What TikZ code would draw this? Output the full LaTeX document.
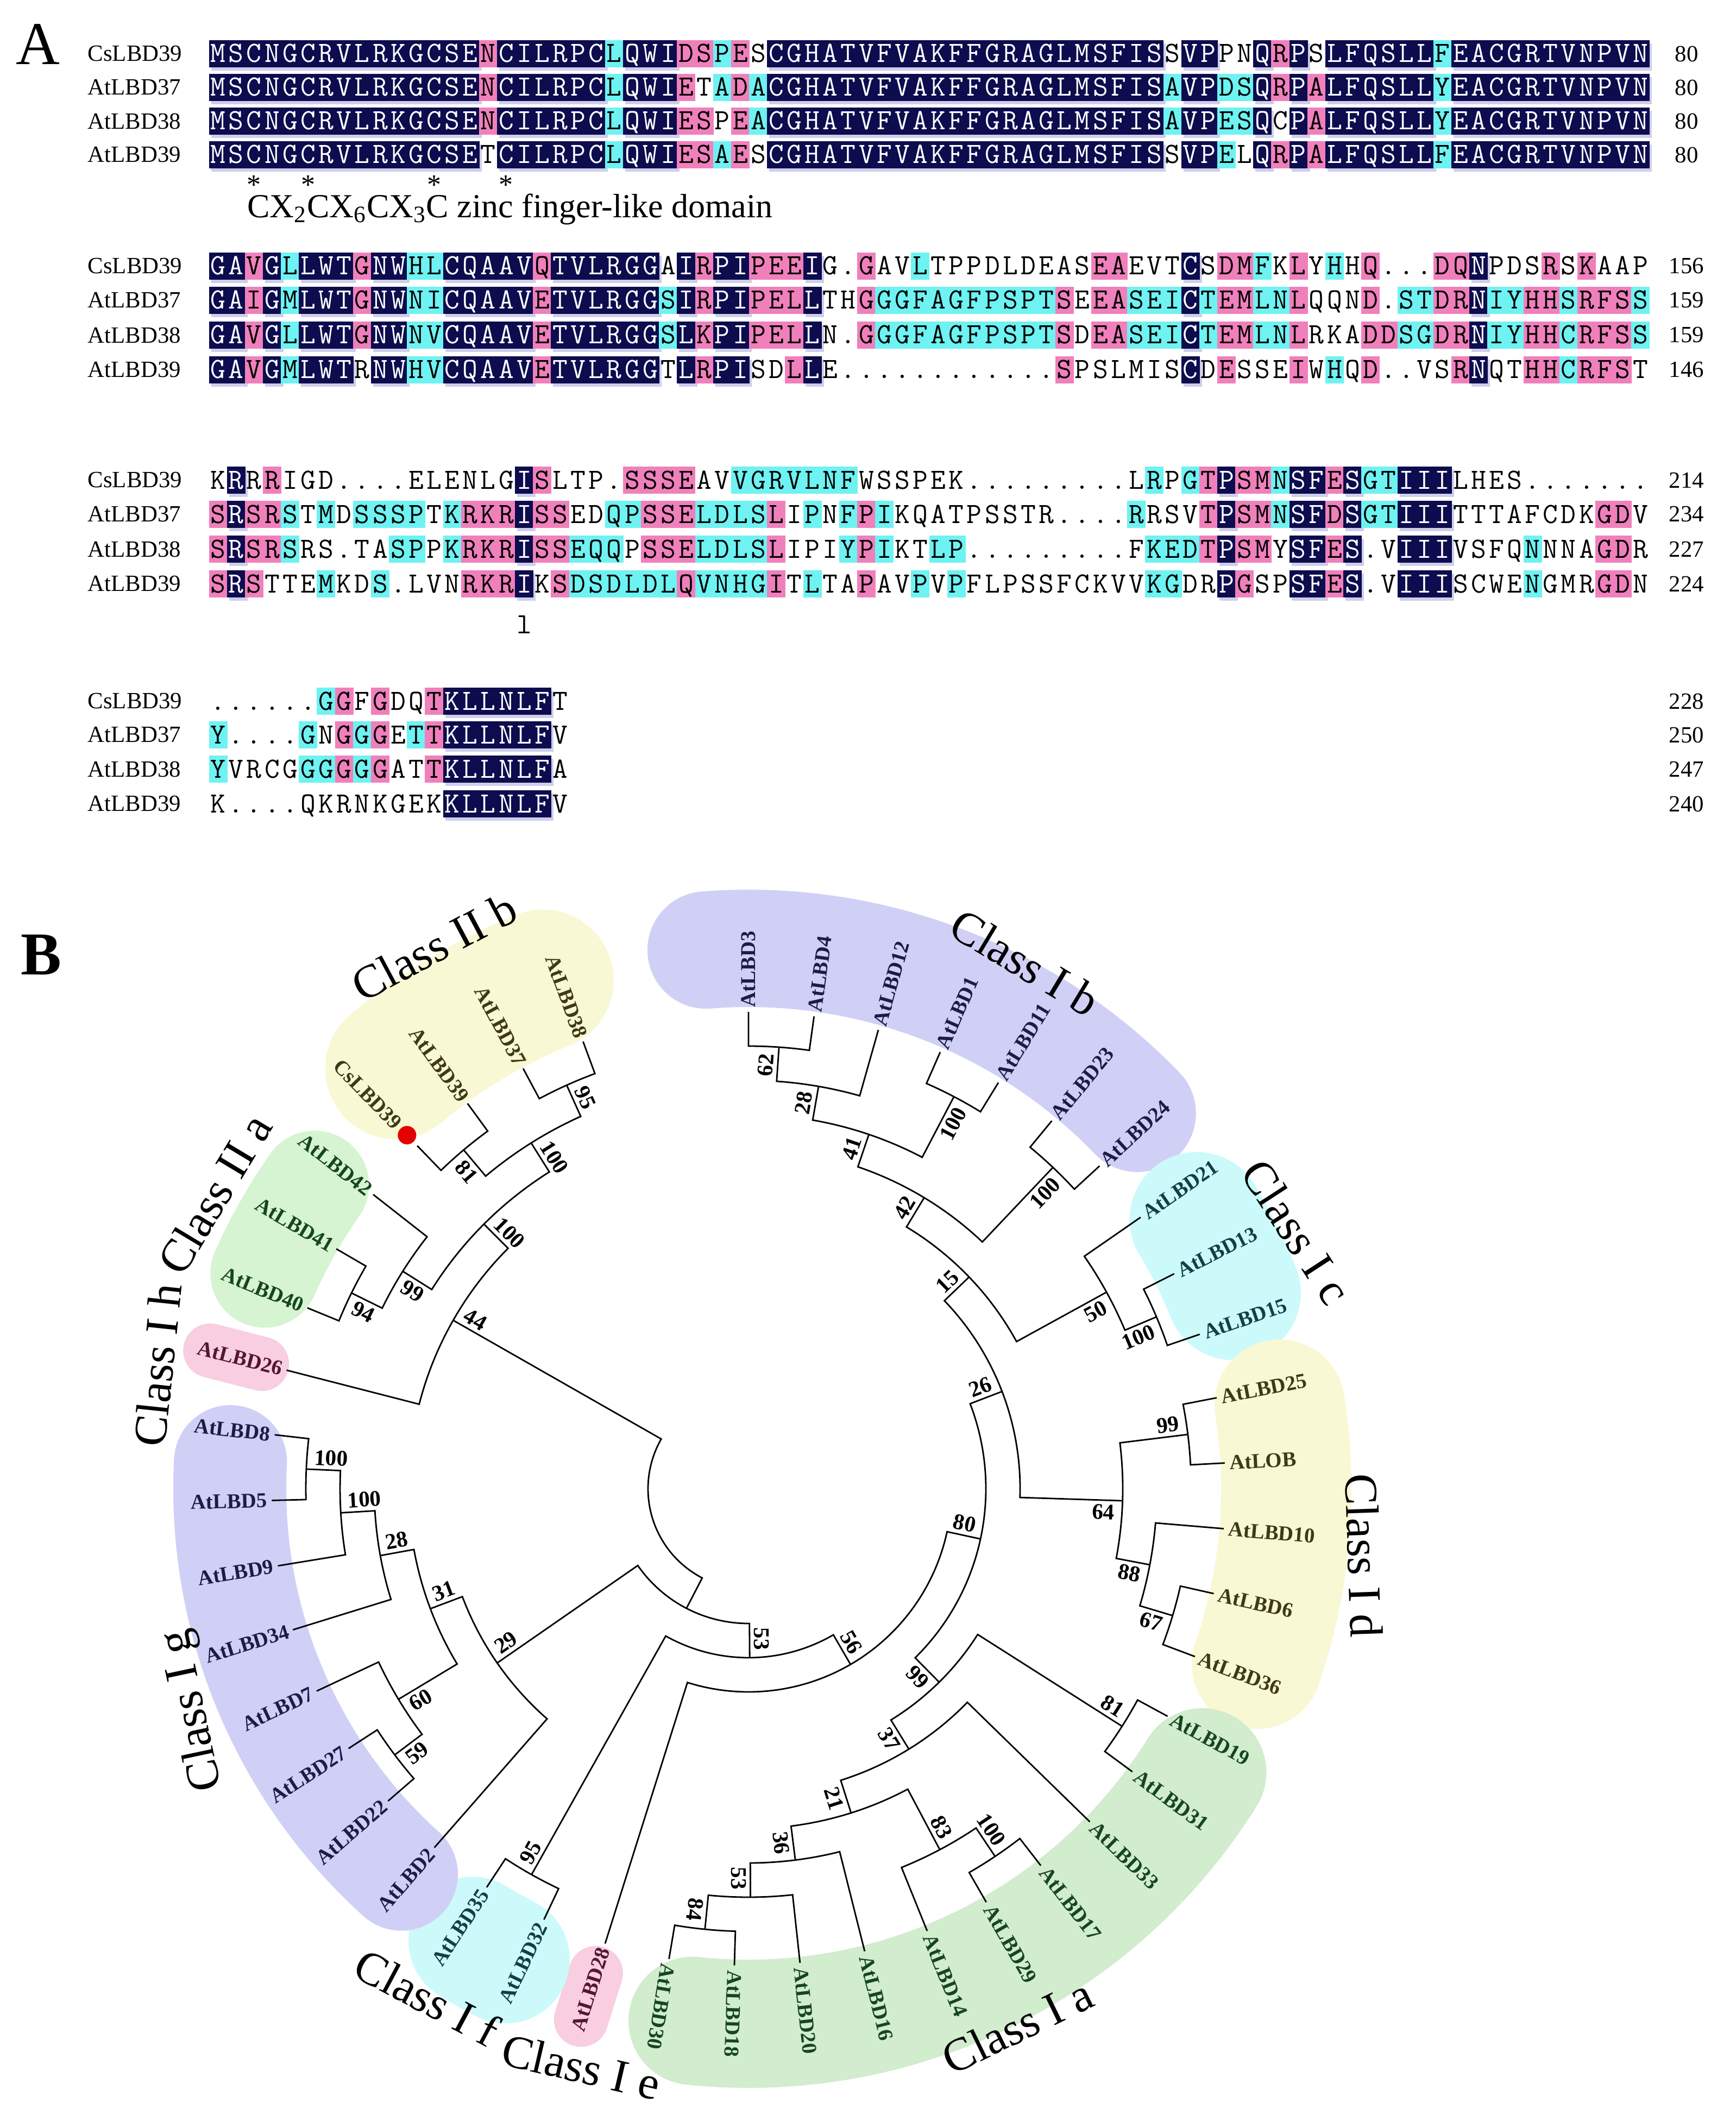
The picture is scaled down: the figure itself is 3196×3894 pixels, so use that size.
\documentclass[tikz,border=0pt]{standalone}
\usepackage{fontspec}
\setmainfont{Liberation Serif}
\usepackage{xstring}
\usetikzlibrary{positioning}

\definecolor{navyres}{RGB}{12,12,78}
\definecolor{navyshade}{RGB}{206,206,236}
\definecolor{pinkres}{RGB}{240,128,188}
\definecolor{cyanres}{RGB}{110,242,242}
\definecolor{blobblue}{RGB}{208,208,246}
\definecolor{blobcyan}{RGB}{204,250,250}
\definecolor{blobyellow}{RGB}{249,248,212}
\definecolor{blobgreen}{RGB}{210,236,206}
\definecolor{blobgreenb}{RGB}{214,244,210}
\definecolor{blobpink}{RGB}{248,206,224}
\definecolor{labblue}{RGB}{28,28,72}
\definecolor{labteal}{RGB}{20,62,70}
\definecolor{labolive}{RGB}{62,58,22}
\definecolor{labgreen}{RGB}{22,70,32}
\definecolor{labpink}{RGB}{84,22,52}

\newcommand\seqsize{\ttfamily\fontsize{13.5}{14}\selectfont}

\tikzset{
  res/.style={anchor=base, inner sep=0pt, font=\seqsize},
  seqname/.style={anchor=west, inner sep=0pt, font=\fontsize{10.7}{12}\selectfont},
  seqend/.style={inner sep=0pt, font=\fontsize{10.7}{12}\selectfont},
  branch/.style={line width=0.7pt, black},
  leaf/.style={inner sep=2pt, font=\bfseries\fontsize{9.7}{11}\selectfont},
  boot/.style={inner sep=1.8pt, font=\bfseries\fontsize{10.3}{11}\selectfont},
  classlab/.style={inner sep=0pt, font=\fontsize{21.5}{23}\selectfont},
  blob/.style={line cap=round},
  panel/.style={inner sep=0pt, font=\fontsize{28}{30}\selectfont}
}

% one alignment row: y, residues, shading (n navy, p pink, c cyan, w none)
\newcommand\seqrow[3]{%
  \StrLen{#2}[\seqn]%
  \foreach \ci in {1,...,\seqn}{%
    \StrChar{#3}{\ci}[\shd]%
    \StrChar{#2}{\ci}[\resid]%
    \pgfmathsetmacro\xk{385+33.15*(\ci-0.5)}%
    \def\fg{black}%
    \if n\shd
      \fill[navyshade] (\xk-13,#1-31) rectangle (\xk+21,#1+19);
      \fill[navyres] (\xk-17,#1-25) rectangle (\xk+17,#1+25); \def\fg{white}\fi
    \if p\shd \fill[pinkres] (\xk-17,#1-25) rectangle (\xk+17,#1+25); \fi
    \if c\shd \fill[cyanres] (\xk-17,#1-25) rectangle (\xk+17,#1+25); \fi
    \node[res, text=\fg] at (\xk,#1-16) {\resid};
  }}

% tree leaf: [extra gap] name, position index, label, colour
\newcommand\leaf[5][0]{%
  \pgfmathsetmacro\nang{90-7.9*#3}%
  \pgfmathsetmacro\lrad{878+#1}%
  \expandafter\xdef\csname a@#2\endcsname{\nang}%
  \coordinate (#2) at (\nang:878);%
  \pgfmathtruncatemacro\rs{\nang>-100}%
  \ifnum\rs=1
    \node[leaf, text=#5, anchor=west, rotate=\nang] (#2t) at (\nang:\lrad) {#4};%
  \else
    \pgfmathsetmacro\brot{\nang+180}%
    \node[leaf, text=#5, anchor=east, rotate=\brot] (#2t) at (\nang:\lrad) {#4};%
  \fi}

% inner node: name, child, child, level, bootstrap, side
\newcommand\clade[6]{%
  \edef\aone{\csname a@#2\endcsname}%
  \edef\atwo{\csname a@#3\endcsname}%
  \pgfmathsetmacro\nang{(\aone+\atwo)/2}%
  \pgfmathsetmacro\nrad{878-63*#4}%
  \expandafter\xdef\csname a@#1\endcsname{\nang}%
  \coordinate (#1) at (\nang:\nrad);%
  \draw[branch] (#2) -- (\aone:\nrad) arc[start angle=\aone, end angle=\atwo, radius=\nrad] -- (#3);%
  \ifx\relax#5\relax\else
    \pgfmathsetmacro\brad{\nrad-6}%
    \pgfmathtruncatemacro\rs{\nang>-100}%
    \ifnum\rs=1
      \ifnum#6>0 \def\anc{south east}\else\def\anc{north east}\fi
      \let\brot\nang
    \else
      \ifnum#6>0 \def\anc{north west}\else\def\anc{south west}\fi
      \pgfmathsetmacro\brot{\nang+180}%
    \fi
    \node[boot, anchor=\anc, rotate=\brot] (#1b) at (\nang:\brad) {#5};%
  \fi}

\begin{document}
\begin{tikzpicture}[x=0.25pt, y=0.25pt]
\useasboundingbox (0,0) rectangle (3196,-3894);
\fill[white] (0,0) rectangle (3196,-3894);

%% A: alignment
\node[panel] (pA) at (70,-82) {A};

\seqrow{-99}{MSCNGCRVLRKGCSENCILRPCLQWIDSPESCGHATVFVAKFFGRAGLMSFISSVPPNQRPSLFQSLLFEACGRTVNPVN}{nnnnnnnnnnnnnnnpnnnnnncnnnppcpwnnnnnnnnnnnnnnnnnnnnnnwnnwwnpnwnnnnnncnnnnnnnnnnn}
\seqrow{-161}{MSCNGCRVLRKGCSENCILRPCLQWIETADACGHATVFVAKFFGRAGLMSFISAVPDSQRPALFQSLLYEACGRTVNPVN}{nnnnnnnnnnnnnnnpnnnnnncnnnpwcpcnnnnnnnnnnnnnnnnnnnnnncnnccnpnpnnnnnncnnnnnnnnnnn}
\seqrow{-223}{MSCNGCRVLRKGCSENCILRPCLQWIESPEACGHATVFVAKFFGRAGLMSFISAVPESQCPALFQSLLYEACGRTVNPVN}{nnnnnnnnnnnnnnnpnnnnnncnnnppwpcnnnnnnnnnnnnnnnnnnnnnncnnccnwnpnnnnnncnnnnnnnnnnn}
\seqrow{-285}{MSCNGCRVLRKGCSETCILRPCLQWIESAESCGHATVFVAKFFGRAGLMSFISSVPELQRPALFQSLLFEACGRTVNPVN}{nnnnnnnnnnnnnnnwnnnnnncnnnppcpwnnnnnnnnnnnnnnnnnnnnnnwnncwnpnpnnnnnncnnnnnnnnnnn}

\foreach \c in {3,6,13,17}
  \node[font=\fontsize{13}{14}\selectfont, inner sep=0pt] (st\c) at ({385+33.15*(\c-0.5)},-340) {*};
\node[inner sep=0pt, font=\fontsize{15.5}{17}\selectfont] (dom) at (939,-385) {CX\textsubscript{2}CX\textsubscript{6}CX\textsubscript{3}C zinc finger-like domain};

\seqrow{-490}{GAVGLLWTGNWHLCQAAVQTVLRGGAIRPIPEEIG.GAVLTPPDLDEASEAEVTCSDMFKLYHHQ...DQNPDSRSKAAP}{nnpncnnnpnnccnnnnnpnnnnnnwnpnnpppnwwpwwcwwwwwwwwwppwwwnwppcwpwcwpwwwppnwwwpwpwww}
\seqrow{-553}{GAIGMLWTGNWNICQAAVETVLRGGSIRPIPELLTHGGGFAGFPSPTSEEASEICTEMLNLQQND.STDRNIYHHSRFSS}{nnpncnnnpnnccnnnnnpnnnnnncnpnnpppnwwpccccccccccpwppcccncppccpwwwpwccppnccppcpppc}
\seqrow{-617}{GAVGLLWTGNWNVCQAAVETVLRGGSLKPIPELLN.GGGFAGFPSPTSDEASEICTEMLNLRKADDSGDRNIYHHCRFSS}{nnpncnnnpnnccnnnnnpnnnnnncnpnnpppnwwpccccccccccpwppcccncppccpwwwppccppnccppcpppc}
\seqrow{-681}{GAVGMLWTRNWHVCQAAVETVLRGGTLRPISDLLE............SPSLMISCDESSEIWHQD..VSRNQTHHCRFST}{nnpncnnnwnnccnnnnnpnnnnnnwnpnnwwpnwwwwwwwwwwwwwpwwwwwwnwpwwwpwcwpwwwwpnwwppcpppw}

\seqrow{-884}{KRRRIGD....ELENLGISLTP.SSSEAVVGRVLNFWSSPEK.........LRPGTPSMNSFESGTIIILHES.......}{wnwpwwwwwwwwwwwwwnpwwwwppppwwcccccccwwwwwwwwwwwwwwwwcwcpnppcnnpnccnnnwwwwwwwwwww}
\seqrow{-947}{SRSRSTMDSSSPTKRKRISSEDQPSSELDLSLIPNFPIKQATPSSTR....RRSVTPSMNSFDSGTIIITTTAFCDKGDV}{pnppcwcwccccwcpppnppwwccpppccccpwcwcpcwwwwwwwwwwwwwcwwwpnppcnnpnccnnnwwwwwwwwppw}
\seqrow{-1011}{SRSRSRS.TASPPKRKRISSEQQPSSELDLSLIPIYPIKTLP.........FKEDTPSMYSFES.VIIIVSFQNNNAGDR}{pnppcwwwwwccwcpppnppcccwpppccccpwwwcpcwwccwwwwwwwwwwcccpnppwnnpnwwnnnwwwwcwwwppw}
\seqrow{-1075}{SRSTTEMKDS.LVNRKRIKSDSDLDLQVNHGITLTAPAVPVPFLPSSFCKVVKGDRPGSPSFES.VIIISCWENGMRGDN}{pnpwwwcwwcwwwwpppnwpccccccpccccpwcwwpwwcwcwwwwwwwwwwccwwnpwwnnpnwwnnnwwwwcwwwppw}
\node[inner sep=0pt, font=\seqsize] (mk) at (965,-1150) {l};

\seqrow{-1291}{......GGFGDQTKLLNLFT}{wwwwwwcpwpwwpnnnnnnw}
\seqrow{-1353}{Y....GNGGGETTKLLNLFV}{cwwwwcwpcpwcpnnnnnnw}
\seqrow{-1416}{YVRCGGGGGGATTKLLNLFA}{cwwwwccpcpwwpnnnnnnw}
\seqrow{-1480}{K....QKRNKGEKKLLNLFV}{wwwwwwwwwwwwwnnnnnnw}

\foreach \yy/\nn/\ee in {99/CsLBD39/80, 161/AtLBD37/80, 223/AtLBD38/80, 285/AtLBD39/80,
    490/CsLBD39/156, 553/AtLBD37/159, 617/AtLBD38/159, 681/AtLBD39/146,
    884/CsLBD39/214, 947/AtLBD37/234, 1011/AtLBD38/227, 1075/AtLBD39/224,
    1291/CsLBD39/228, 1353/AtLBD37/250, 1416/AtLBD38/247, 1480/AtLBD39/240}{
  \node[seqname] (nm\yy) at (161,-\yy) {\nn};
  \node[seqend] (len\yy) at (3105,-\yy) {\ee};
}

%% B: tree
\node[panel, font=\bfseries\fontsize{28}{30}\selectfont] (pB) at (76,-1758) {B};

\begin{scope}[shift={(1378,-2741)}]
  % class shading
  \draw[blob, blobblue, line width=54pt] (94.5:995) arc[start angle=94.5, end angle=44, radius=995];
  \draw[blob, blobcyan, line width=62pt] (31:963) arc[start angle=31, end angle=22, radius=963];
  \draw[blob, blobyellow, line width=60pt] (9:990) arc[start angle=9, end angle=-19, radius=990];
  \draw[blob, blobgreen, line width=59pt] (-32:985) arc[start angle=-32, end angle=-96, radius=985];
  \draw[blob, blobpink, line width=25pt] (-107.5:935) -- (-107.5:1025);
  \draw[blob, blobcyan, line width=59pt] (-117.3:975) arc[start angle=-117.3, end angle=-121.4, radius=975];
  \draw[blob, blobblue, line width=52pt] (177:955) arc[start angle=177, end angle=228, radius=955];
  \draw[blob, blobpink, line width=25pt] (165.6:925) -- (165.6:1023);
  \draw[blob, blobgreenb, line width=50pt] (145:975) arc[start angle=145, end angle=156, radius=975];
  \draw[blob, blobyellow, line width=65pt] (112:1010) arc[start angle=112, end angle=130, radius=1010];

  \foreach \i/\nm/\tx/\cl in {0/l3/AtLBD3/labblue, 1/l4/AtLBD4/labblue, 2/l12/AtLBD12/labblue,
      3/l1/AtLBD1/labblue, 4/l11/AtLBD11/labblue, 5/l23/AtLBD23/labblue, 6/l24/AtLBD24/labblue,
      7/l21/AtLBD21/labteal, 8/l13/AtLBD13/labteal, 9/l15/AtLBD15/labteal,
      10/l25/AtLBD25/labolive, 11/lLOB/AtLOB/labolive, 12/l10/AtLBD10/labolive, 13/l6/AtLBD6/labolive, 14/l36/AtLBD36/labolive,
      15/l19/AtLBD19/labgreen, 16/l31/AtLBD31/labgreen, 17/l33/AtLBD33/labgreen, 18/l17/AtLBD17/labgreen,
      19/l29/AtLBD29/labgreen, 20/l14/AtLBD14/labgreen, 21/l16/AtLBD16/labgreen, 22/l20/AtLBD20/labgreen,
      23/l18/AtLBD18/labgreen, 24/l30/AtLBD30/labgreen,
      25/l28/AtLBD28/labpink, 26/l32/AtLBD32/labteal, 27/l35/AtLBD35/labteal,
      28/l2/AtLBD2/labblue, 29/l22/AtLBD22/labblue, 30/l27/AtLBD27/labblue, 31/l7/AtLBD7/labblue,
      32/l34/AtLBD34/labblue, 33/l9/AtLBD9/labblue, 34/l5/AtLBD5/labblue, 35/l8/AtLBD8/labblue,
      36/l26/AtLBD26/labpink, 37/l40/AtLBD40/labgreen, 38/l41/AtLBD41/labgreen, 39/l42/AtLBD42/labgreen,
      41/l39/AtLBD39/labolive, 42/l37/AtLBD37/labolive, 43/l38/AtLBD38/labolive}
    \leaf{\nm}{\i}{\tx}{\cl};
  \leaf[42]{cs39}{40}{CsLBD39}{labolive}

  % Class I b, c, d
  \clade{n62}{l3}{l4}{1}{62}{1}
  \clade{n28}{n62}{l12}{2}{28}{1}
  \clade{n100a}{l1}{l11}{1}{100}{-1}
  \clade{n41}{n28}{n100a}{3}{41}{1}
  \clade{n100b}{l23}{l24}{1}{100}{-1}
  \clade{n42}{n41}{n100b}{4}{42}{1}
  \clade{n100c}{l13}{l15}{1}{100}{-1}
  \clade{n50}{l21}{n100c}{2}{50}{-1}
  \clade{n15}{n42}{n50}{5}{15}{1}
  \clade{n99}{l25}{lLOB}{1}{99}{1}
  \clade{n67}{l6}{l36}{1}{67}{-1}
  \clade{n88}{l10}{n67}{2}{88}{-1}
  \clade{n64}{n99}{n88}{3}{64}{-1}
  \clade{n26}{n15}{n64}{6}{26}{1}
  % Class I a
  \clade{n81}{l19}{l31}{1}{81}{1}
  \clade{n100d}{l17}{l29}{1}{100}{1}
  \clade{n83}{n100d}{l14}{2}{83}{1}
  \clade{n84}{l18}{l30}{1}{84}{-1}
  \clade{n53b}{l20}{n84}{2}{53}{-1}
  \clade{n36}{l16}{n53b}{3}{36}{-1}
  \clade{n21}{n83}{n36}{4}{21}{-1}
  \clade{n37}{l33}{n21}{5}{37}{-1}
  \clade{n99b}{n81}{n37}{6}{99}{-1}
  \clade{n80}{n26}{n99b}{7}{80}{1}
  \clade{n56}{n80}{l28}{8}{56}{1}
  \clade{n95}{l32}{l35}{1}{95}{-1}
  \clade{n53}{n56}{n95}{9}{53}{1}
  % Class I g
  \clade{n100h}{l5}{l8}{1}{100}{-1}
  \clade{n100i}{l9}{n100h}{2}{100}{-1}
  \clade{n28b}{l34}{n100i}{3}{28}{-1}
  \clade{n59}{l22}{l27}{1}{59}{1}
  \clade{n60}{n59}{l7}{2}{60}{1}
  \clade{n31}{n60}{n28b}{4}{31}{-1}
  \clade{n29}{l2}{n31}{5}{29}{-1}
  \clade{nr2}{n53}{n29}{10}{}{0}
  % Class II, I h
  \clade{n94}{l40}{l41}{1}{94}{1}
  \clade{n99c}{n94}{l42}{2}{99}{1}
  \clade{n81b}{cs39}{l39}{1}{81}{1}
  \clade{n95b}{l37}{l38}{1}{95}{-1}
  \clade{n100f}{n81b}{n95b}{2}{100}{-1}
  \clade{n100g}{n99c}{n100f}{3}{100}{-1}
  \clade{n44}{l26}{n100g}{4}{44}{-1}
  \clade{root}{nr2}{n44}{11}{}{0}

  \fill[red!90!black] (134:905) circle[radius=17];
\end{scope}

\node[classlab, rotate=28] (c2b) at (799,-1743) {Class II b};
\node[classlab, rotate=-31] (c1b) at (1887,-1772) {Class I b};
\node[classlab, rotate=-57] (c1c) at (2387,-2268) {Class I c};
\node[classlab, rotate=-88] (c1d) at (2511,-2864) {Class I d};
\node[classlab, rotate=26] (c1a) at (1873,-3730) {Class I a};
\node[classlab, rotate=-28] (c1f) at (786,-3677) {Class I f};
\node[classlab, rotate=-13] (c1e) at (1070,-3805) {Class I e};
\node[classlab, rotate=102] (c1g) at (356,-3149) {Class I g};
\node[classlab, rotate=84] (c1h) at (290,-2513) {Class I h};
\node[classlab, rotate=59] (c2a) at (395,-2198) {Class II a};
\end{tikzpicture}
\end{document}
